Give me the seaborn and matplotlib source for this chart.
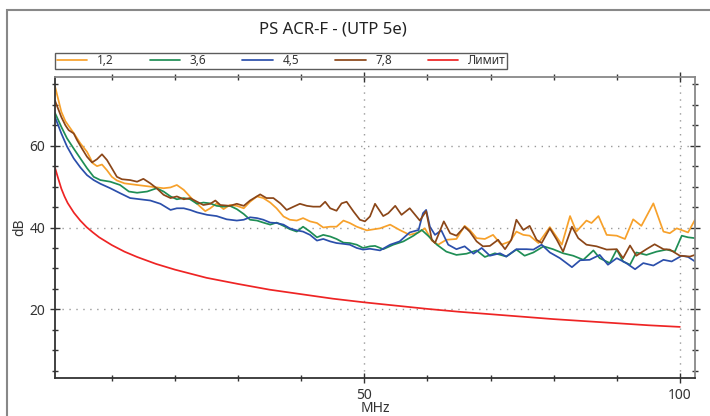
import numpy as np
import pandas as pd
import matplotlib
matplotlib.use("Agg")
import matplotlib.pyplot as plt
import seaborn as sns
from matplotlib.patches import Rectangle
from matplotlib.ticker import MultipleLocator, FixedLocator

# pair 1,2
f_12 = [1.0, 2.0, 2.64, 4.0, 5.0, 6.07, 7.0, 7.65, 8.44, 9.23, 10.0, 10.8, 12.0, 14.0, 16.1,
        18.2, 19.3, 20.3, 21.4, 22.9, 24.0, 24.8, 25.6, 26.6, 27.7, 28.7, 29.8, 30.9, 31.9,
        33.0, 34.0, 35.1, 36.1, 37.2, 38.2, 39.3, 40.3, 41.4, 42.5, 43.5, 44.6, 45.6, 46.7,
        47.7, 48.8, 50.4, 52.5, 54.1, 55.6, 57.2, 58.6, 59.6, 60.7, 61.7, 63.0, 64.6, 65.9,
        66.7, 67.8, 69.1, 70.4, 71.7, 73.1, 74.1, 75.2, 76.2, 77.6, 79.4, 81.3, 82.6, 83.6,
        85.2, 86.0, 87.1, 88.4, 90.0, 91.3, 92.6, 93.9, 95.8, 97.4, 98.4, 99.5, 101.3, 102.4]
db_12 = [74.5, 68.3, 66.0, 63.0, 60.6, 58.5, 55.7, 55.0, 55.4, 54.0, 52.4, 51.5, 50.8, 50.4, 50.0,
         49.6, 49.8, 50.4, 49.2, 46.7, 45.1, 44.0, 44.7, 45.9, 44.5, 45.5, 45.3, 44.7, 46.3,
         47.6, 47.2, 46.1, 44.7, 42.7, 41.9, 41.7, 42.3, 41.5, 41.1, 40.0, 40.2, 40.2, 41.7,
         41.1, 40.2, 39.3, 39.8, 40.7, 39.4, 38.2, 38.8, 39.8, 36.8, 35.8, 37.0, 37.2, 40.4,
         39.4, 37.4, 37.2, 38.2, 35.8, 36.6, 39.0, 38.2, 38.0, 36.2, 40.1, 35.8, 42.8, 39.0,
         41.7, 41.1, 42.8, 38.2, 38.0, 37.2, 42.0, 40.4, 45.9, 39.0, 38.6, 39.8, 38.8, 41.9]

# pair 3,6
f_36 = [1.0, 2.0, 2.9, 3.96, 5.01, 6.07, 7.12, 8.18, 9.76, 11.3, 12.7, 14.0, 15.6, 17.1, 18.2,
        19.3, 20.3, 21.4, 22.4, 23.5, 24.5, 25.6, 26.6, 27.7, 28.7, 29.8, 30.9, 31.9, 33.0,
        34.0, 35.1, 36.1, 37.2, 38.2, 39.3, 40.3, 41.4, 42.5, 43.5, 44.6, 45.6, 46.7, 47.7,
        48.8, 49.8, 50.9, 51.7, 53.0, 54.6, 56.2, 57.8, 59.1, 60.1, 61.5, 63.0, 64.6, 66.2,
        67.8, 69.1, 70.7, 72.5, 74.1, 75.4, 76.8, 78.4, 79.9, 81.5, 83.1, 84.7, 86.3, 87.3,
        88.9, 90.0, 91.0, 92.1, 93.1, 94.7, 96.3, 97.9, 99.2, 100.3, 101.3, 102.4]
db_36 = [68.0, 64.6, 61.8, 59.3, 56.9, 54.5, 52.4, 51.6, 51.2, 50.4, 48.8, 48.5, 48.8, 49.6, 48.8,
         47.6, 46.9, 47.2, 46.9, 45.8, 46.1, 45.9, 45.3, 45.1, 45.3, 44.5, 43.3, 41.9, 41.7,
         41.2, 40.7, 41.2, 40.4, 39.6, 39.0, 40.2, 39.0, 37.6, 38.2, 37.8, 37.2, 36.3, 36.2,
         35.8, 35.0, 35.4, 35.5, 34.7, 35.8, 36.6, 38.0, 39.4, 38.0, 35.8, 34.1, 33.3, 33.6,
         34.4, 32.8, 33.7, 32.9, 34.6, 33.1, 33.9, 35.4, 34.7, 33.7, 33.1, 32.1, 34.4, 32.5,
         31.3, 34.6, 31.7, 30.9, 33.9, 33.3, 34.1, 34.6, 34.1, 38.0, 37.6, 37.4]

# pair 4,5
f_45 = [1.0, 2.0, 2.9, 3.96, 5.01, 6.07, 7.12, 8.18, 9.76, 11.3, 12.9, 14.5, 16.1, 17.7, 19.3,
        20.3, 21.4, 22.4, 23.5, 25.1, 26.6, 28.2, 29.8, 30.9, 31.9, 33.0, 34.0, 35.1, 36.1,
        37.2, 38.2, 39.3, 40.3, 41.4, 42.5, 43.5, 44.6, 45.6, 46.7, 47.7, 48.8, 49.8, 50.9,
        52.5, 54.1, 55.6, 57.2, 58.6, 59.3, 59.8, 60.4, 61.2, 62.2, 63.3, 64.6, 65.9, 67.3,
        68.6, 69.9, 71.5, 72.5, 74.1, 75.7, 76.8, 78.1, 79.4, 81.0, 82.9, 84.2, 85.7, 87.3,
        88.6, 90.0, 91.5, 92.9, 94.2, 95.8, 97.4, 98.7, 100.3, 101.3, 102.4]
db_45 = [67.0, 63.0, 59.8, 56.9, 54.7, 52.8, 51.6, 50.7, 49.6, 48.4, 47.2, 46.9, 46.6, 45.8, 44.3,
         44.7, 44.7, 44.3, 43.7, 43.1, 42.8, 42.0, 41.7, 41.9, 42.5, 42.3, 41.9, 41.2, 41.1,
         40.7, 39.8, 39.3, 39.0, 38.2, 36.8, 37.2, 36.6, 36.2, 36.0, 35.8, 35.0, 34.6, 34.8,
         34.4, 35.8, 36.6, 38.8, 39.4, 43.5, 44.3, 40.2, 38.2, 39.3, 35.8, 34.7, 35.4, 33.6,
         35.0, 33.1, 33.7, 32.9, 34.7, 34.7, 34.6, 35.8, 33.9, 32.5, 30.3, 32.0, 32.1, 33.3,
         30.9, 32.5, 31.3, 29.8, 31.3, 30.7, 32.1, 31.7, 33.1, 32.8, 31.7]

# pair 7,8
f_78 = [1.0, 2.0, 2.64, 3.16, 3.96, 4.48, 5.27, 6.07, 6.86, 7.65, 8.44, 9.23, 10.0, 10.8, 11.6,
        12.9, 14.0, 15.0, 16.1, 17.1, 18.2, 19.3, 20.3, 21.4, 22.4, 23.5, 24.5, 25.6, 26.4,
        27.2, 28.7, 29.8, 30.9, 31.9, 33.5, 34.5, 35.6, 36.7, 37.7, 38.8, 39.8, 40.9, 41.9,
        43.0, 43.8, 44.6, 45.6, 46.4, 47.2, 48.3, 49.3, 50.1, 50.9, 51.7, 53.0, 53.8, 54.9,
        55.9, 57.2, 58.8, 59.8, 60.7, 61.2, 62.6, 63.6, 64.6, 65.9, 66.7, 67.8, 68.8, 69.9,
        71.2, 72.3, 73.3, 74.1, 75.2, 76.2, 77.3, 78.1, 79.4, 80.5, 81.5, 82.9, 83.9, 85.2,
        86.8, 88.4, 90.0, 91.0, 92.1, 93.1, 94.7, 96.0, 97.4, 98.4, 100.0, 101.6, 102.4]
db_78 = [71.0, 67.0, 65.0, 63.8, 63.0, 61.4, 59.3, 57.3, 55.9, 56.7, 57.9, 56.5, 54.5, 52.4, 51.8,
         51.6, 51.2, 51.9, 50.8, 49.6, 48.0, 47.2, 47.6, 46.9, 47.2, 46.3, 45.5, 45.8, 46.6,
         45.5, 45.3, 45.8, 45.3, 46.6, 48.1, 47.2, 47.2, 45.9, 44.3, 45.1, 45.8, 45.3, 45.1,
         45.1, 46.3, 44.7, 44.1, 45.9, 46.3, 43.9, 41.9, 41.5, 42.7, 45.8, 42.8, 43.5, 45.3,
         43.1, 44.7, 41.7, 44.0, 37.0, 36.2, 41.5, 38.6, 38.0, 40.2, 39.0, 36.6, 35.4, 35.5,
         37.0, 34.7, 37.0, 41.9, 39.4, 40.4, 37.0, 36.2, 39.8, 37.0, 34.1, 40.2, 37.4, 35.8,
         35.4, 34.6, 34.7, 32.5, 35.6, 33.1, 34.7, 35.9, 34.7, 34.6, 33.1, 32.9, 33.3]

# limit
f_lim = [1.0, 1.5, 2.0, 2.5, 3.0, 4.0, 5.0, 6.0, 7.0, 8.0, 10.0, 12.0, 14.0, 17.0, 20.0, 25.0,
         30.0, 35.0, 40.0, 45.0, 50.0, 55.0, 60.0, 65.0, 70.0, 75.0, 80.0, 85.0, 90.0, 95.0, 100.0]
db_lim = [54.6, 52.0, 49.5, 47.6, 46.0, 43.6, 41.7, 40.1, 38.8, 37.6, 35.7, 34.1, 32.8, 31.1, 29.7,
          27.7, 26.2, 24.8, 23.7, 22.6, 21.7, 20.9, 20.1, 19.4, 18.8, 18.2, 17.6, 17.1, 16.6,
          16.1, 15.7]

labels = ["1,2", "3,6", "4,5", "7,8", "Лимит"]
colors = ["#f7a12b", "#1f8e55", "#2b4fab", "#8b4618", "#ee2424"]
series = [(f_12, db_12), (f_36, db_36), (f_45, db_45), (f_78, db_78), (f_lim, db_lim)]

sns.set_theme(style="ticks")
plt.rcParams["font.family"] = ["Noto Sans", "DejaVu Sans"]
plt.rcParams["lines.solid_joinstyle"] = "round"

fig = plt.figure(figsize=(7.1, 4.16), dpi=100)
ax = fig.add_axes([0.0775, 0.0913, 0.9014, 0.7236])

for (fx, fy), lab, col in zip(series, labels, colors):
    sns.lineplot(x=fx, y=fy, ax=ax, color=col, label=lab, linewidth=1.25,
                 estimator=None, sort=False)

ax.set_xlim(1, 102.4)
ax.set_ylim(3.2, 76.8)
ax.xaxis.set_major_locator(FixedLocator([50, 100]))
ax.xaxis.set_minor_locator(MultipleLocator(10))
ax.yaxis.set_major_locator(FixedLocator([20, 40, 60]))
ax.yaxis.set_minor_locator(MultipleLocator(5))
ax.grid(True, which="major", linestyle=(0, (1, 4)), color="#999999", linewidth=1)

ax.tick_params(axis="both", which="both", top=True, right=True, labelsize=10,
               colors="#333333", labelcolor="#333333")
ax.tick_params(axis="x", which="major", direction="inout", length=7, width=1)
ax.tick_params(axis="x", which="minor", direction="inout", length=5, width=1)
ax.tick_params(axis="y", which="major", direction="inout", length=7, width=1)
ax.tick_params(axis="y", which="minor", direction="inout", length=5, width=1)
for s in ["left", "bottom"]:
    ax.spines[s].set_color("#333333")
    ax.spines[s].set_linewidth(1.3)
for s in ["top", "right"]:
    ax.spines[s].set_color("#888888")
    ax.spines[s].set_linewidth(1.3)

ax.set_xlabel("MHz", fontsize=10, color="#333333", labelpad=-1)
ax.set_ylabel("dB", fontsize=10, color="#333333", labelpad=2)

handles, labs = ax.get_legend_handles_labels()
ax.get_legend().remove()
leg = fig.legend(handles, labs, loc="lower left", ncol=5, mode="expand",
                 bbox_to_anchor=(0.0775, 0.834, 0.637, 0.0385), fontsize=8.5,
                 frameon=True, fancybox=False, borderaxespad=0, borderpad=0.15,
                 handlelength=2.6, handletextpad=0.8, columnspacing=1.0)
leg.get_frame().set_edgecolor("#333333")
leg.get_frame().set_linewidth(1.0)
for t in leg.get_texts():
    t.set_color("#333333")

fig.text(0.469, 0.930, "PS ACR-F - (UTP 5e)", ha="center", va="center",
         fontsize=12, color="#222222")

fig.patches.append(Rectangle((7 / 710, -0.1), 1.2, 1.1 - 10 / 416,
                             transform=fig.transFigure, fill=False,
                             edgecolor="#888888", linewidth=1.5))

fig.savefig("out.png", dpi=100)
